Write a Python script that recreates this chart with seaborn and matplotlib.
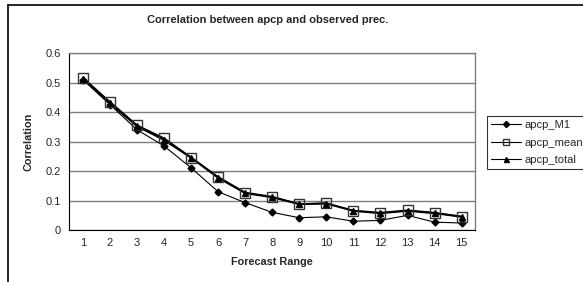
# Correlation between apcp and observed precipitation by forecast range
import numpy as np
import pandas as pd
import matplotlib
matplotlib.use("Agg")
import matplotlib.pyplot as plt
import seaborn as sns

## Data
forecast_range = list(range(1, 16))
apcp_M1 = [0.510, 0.425, 0.340, 0.285, 0.211, 0.130, 0.093, 0.060, 0.042, 0.045,
           0.030, 0.033, 0.050, 0.027, 0.024]
apcp_mean = [0.516, 0.434, 0.355, 0.311, 0.246, 0.180, 0.127, 0.113, 0.088, 0.091,
             0.066, 0.059, 0.067, 0.059, 0.046]
apcp_total = [0.512, 0.429, 0.352, 0.305, 0.245, 0.177, 0.125, 0.111, 0.088, 0.090,
              0.065, 0.057, 0.065, 0.057, 0.045]
series_names = ["apcp_M1", "apcp_mean", "apcp_total"]

df = pd.DataFrame({"Forecast Range": forecast_range * 3,
                   "Correlation": apcp_M1 + apcp_mean + apcp_total,
                   "series": np.repeat(series_names, len(forecast_range))})

sns.set_style("white")
plt.rcParams['font.family'] = ['Liberation Sans', 'DejaVu Sans']

fig = plt.figure(figsize=(5.83, 2.82), dpi=100)
ax = fig.add_axes([0.119, 0.184, 0.696, 0.628])

# draw lines first, then markers with individual styles
widths = {"apcp_M1": 0.8, "apcp_mean": 1.3, "apcp_total": 1.3}
for name in series_names:
    sub = df[df.series == name]
    sns.lineplot(data=sub, x="Forecast Range", y="Correlation", ax=ax, color="black",
                 lw=widths[name], legend=False, zorder=3)
markers = {"apcp_M1": dict(marker="D", ms=3.5, mfc="black", mec="black"),
           "apcp_mean": dict(marker="s", ms=6.5, mfc="none", mec="#333333", mew=1.0),
           "apcp_total": dict(marker="^", ms=4, mfc="black", mec="black")}
handles = []
for name in series_names:
    sub = df[df.series == name]
    ax.plot(sub["Forecast Range"], sub["Correlation"], ls="none", zorder=4, **markers[name])
    hm = dict(markers[name])
    if name == "apcp_mean":
        hm["ms"] = 4
    else:
        hm["ms"] = hm["ms"] * 0.9
    handles.append(plt.Line2D([], [], color="black", lw=0.8, label=name, **hm))

ax.set_xlim(0.5, 15.5)
ax.set_ylim(0, 0.6)
ax.set_yticks(np.arange(0, 0.61, 0.1))
ax.set_yticklabels(["0", "0.1", "0.2", "0.3", "0.4", "0.5", "0.6"])
ax.set_xticks(forecast_range)
ax.set_xticks(np.arange(0.5, 15.6, 1), minor=True)
ax.tick_params(axis="x", which="major", length=0, labelsize=8, pad=6)
ax.tick_params(axis="x", which="minor", length=3, width=0.8, direction="out", color="black")
ax.tick_params(axis="y", length=3, width=0.8, direction="out", labelsize=8, color="black", pad=3)
ax.yaxis.grid(True, color="#7f7f7f", lw=1.0)
ax.set_axisbelow(True)
for side in ["top", "right"]:
    ax.spines[side].set_color("#7f7f7f")
    ax.spines[side].set_linewidth(1.0)
for side in ["left", "bottom"]:
    ax.spines[side].set_color("black")
    ax.spines[side].set_linewidth(0.8)

ax.set_xlabel("Forecast Range", fontsize=7.8, fontweight="bold", labelpad=6)
ax.set_ylabel("Correlation", fontsize=7.8, fontweight="bold", labelpad=9)
fig.text(0.46, 0.93, "Correlation between apcp and observed prec.", ha="center",
         va="center", fontsize=8, fontweight="bold")

leg = fig.legend(handles=handles, loc="upper left", bbox_to_anchor=(0.835, 0.589),
                 fontsize=8, frameon=True, fancybox=False, edgecolor="black",
                 handlelength=2.7, handletextpad=0.3, borderpad=0.35, labelspacing=0.7,
                 borderaxespad=0)
leg.get_frame().set_linewidth(0.8)

# chart border (left and top edges visible in the crop)
fig.add_artist(plt.Line2D([0.014, 0.014], [0, 0.982], color="black", lw=1.2, transform=fig.transFigure))
fig.add_artist(plt.Line2D([0.014, 1.0], [0.982, 0.982], color="black", lw=1.2, transform=fig.transFigure))

fig.savefig("out.png", dpi=100)
